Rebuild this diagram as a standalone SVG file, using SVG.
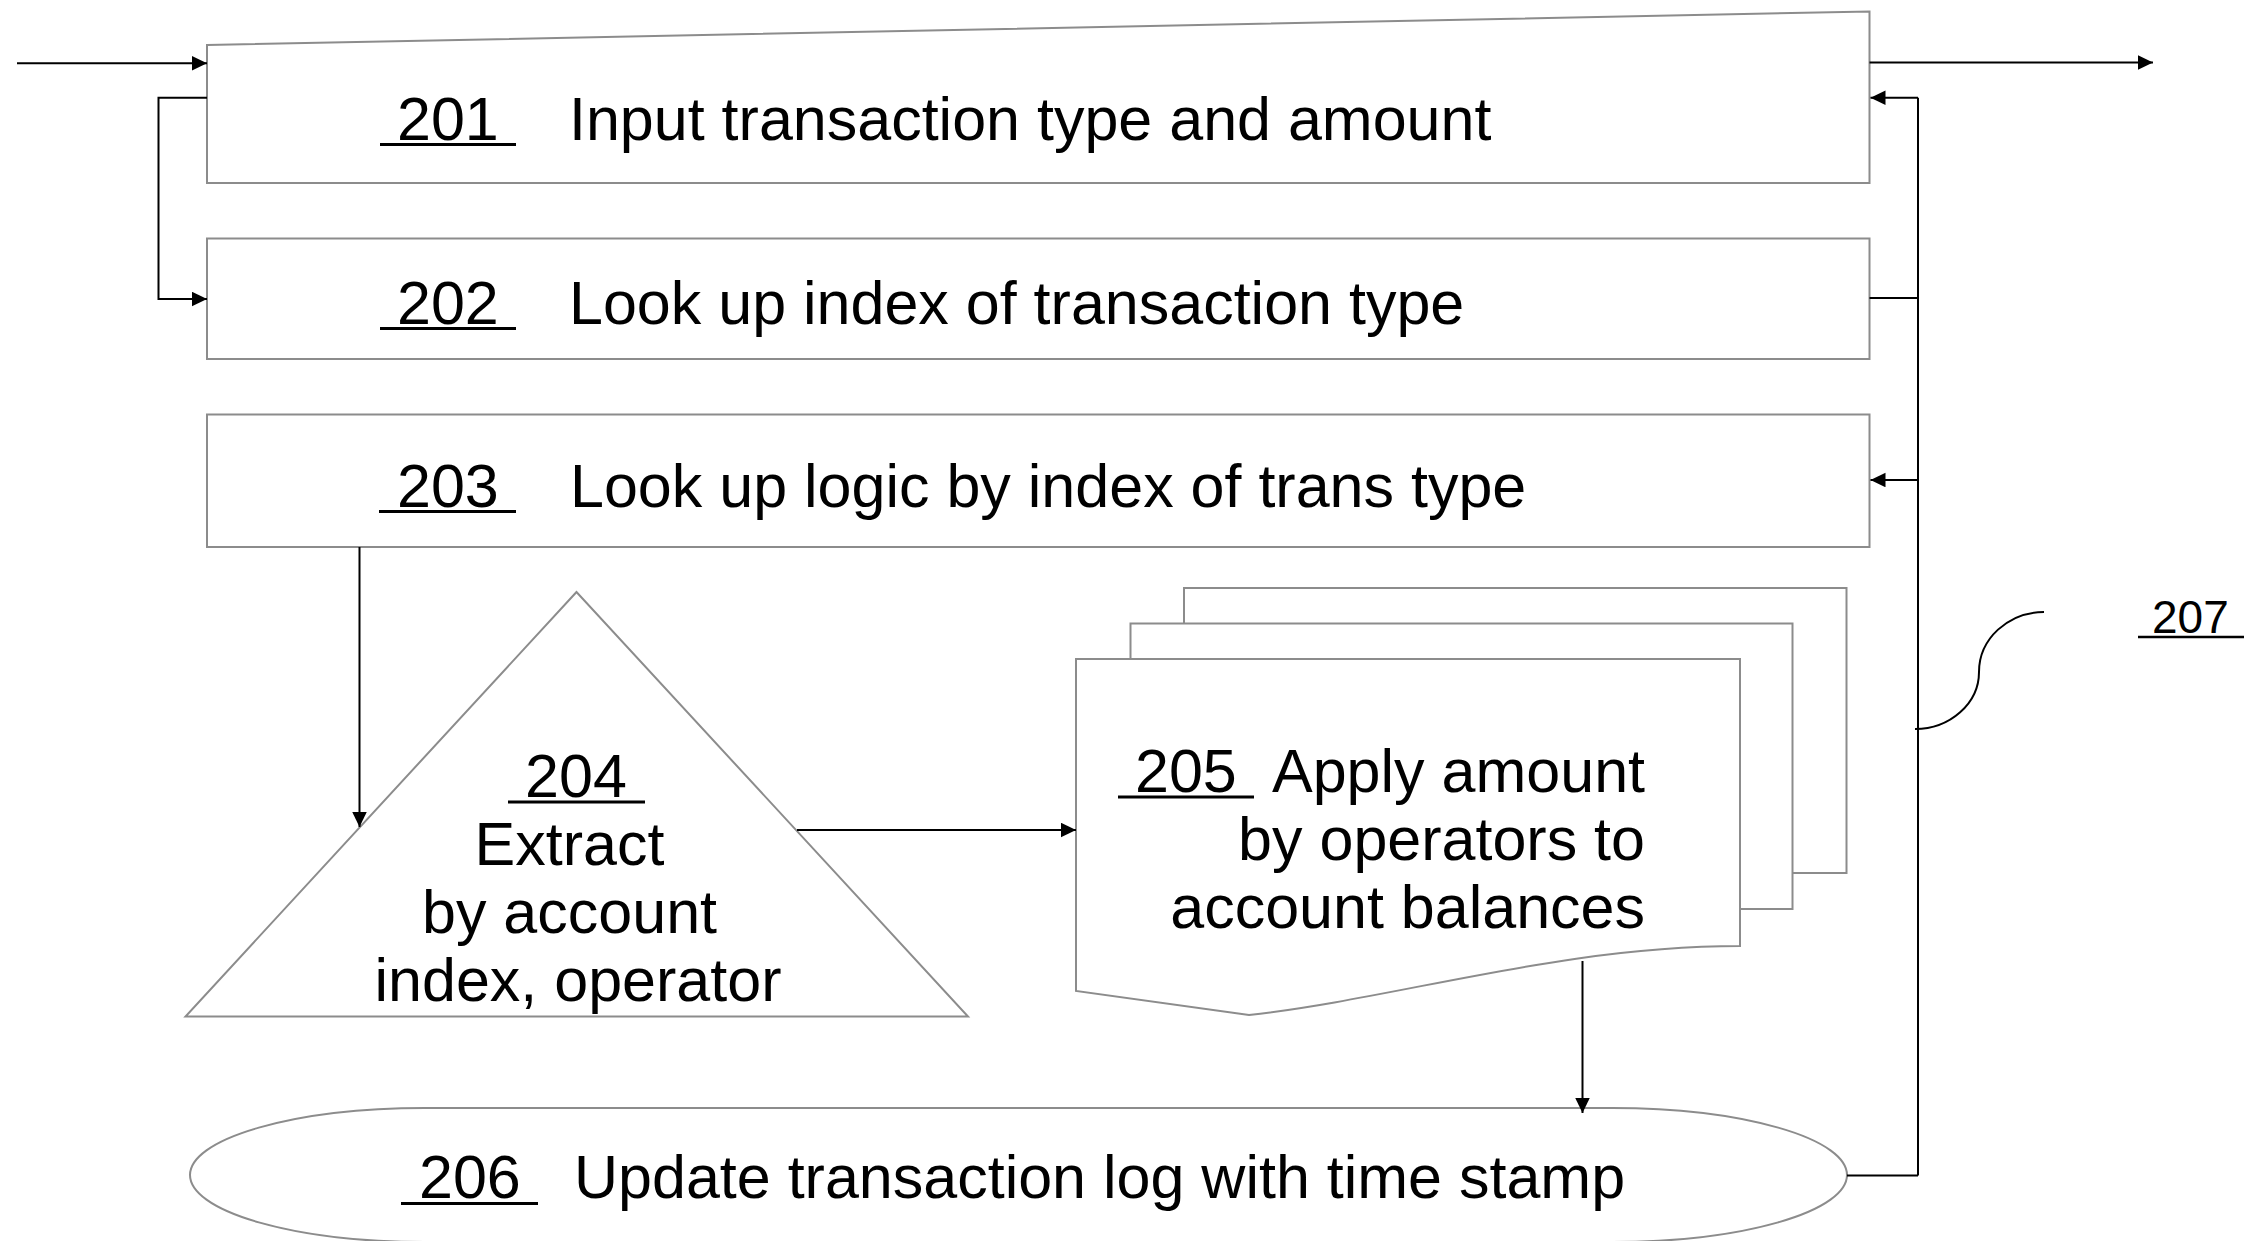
<svg xmlns="http://www.w3.org/2000/svg" width="2256" height="1241" viewBox="0 0 2256 1241">
<style>
.shape{fill:#fff;stroke:#8c8c8c;stroke-width:2}
.conn{fill:none;stroke:#000;stroke-width:2}
.t{font-family:"Liberation Sans",Arial,sans-serif;font-size:61px;fill:#000}
.ul{stroke:#000;stroke-width:3}
.e{text-anchor:end}
.m{text-anchor:middle}
</style>
<defs>
<marker id="arr" markerUnits="userSpaceOnUse" markerWidth="16" markerHeight="16" refX="15" refY="7.25" orient="auto">
<path d="M0,0 L15,7.25 L0,14.5 Z" fill="#000"/>
</marker>
</defs>
<rect width="2256" height="1241" fill="#fff"/>

<g id="node-205-stack">
<rect class="shape" x="1184" y="588" width="662.5" height="285"/>
<rect class="shape" x="1130.5" y="623.5" width="662" height="285.5"/>
</g>

<g id="node-201">
<polygon class="shape" points="207,45 1869.5,11.5 1869.5,183 207,183"/>
<text class="t" x="397" y="139.5">201</text>
<line class="ul" x1="380" y1="144.5" x2="516" y2="144.5"/>
<text class="t" x="569" y="139.5">Input transaction type and amount</text>
</g>

<g id="node-202">
<rect class="shape" x="207" y="238.5" width="1662.5" height="120.5"/>
<text class="t" x="397" y="323.5">202</text>
<line class="ul" x1="380" y1="328.5" x2="516" y2="328.5"/>
<text class="t" x="569" y="323.5">Look up index of transaction type</text>
</g>

<g id="node-203">
<rect class="shape" x="207" y="414.5" width="1662.5" height="132.5"/>
<text class="t" x="397" y="506.5">203</text>
<line class="ul" x1="379" y1="511.5" x2="516" y2="511.5"/>
<text class="t" x="570" y="506.5">Look up logic by index of trans type</text>
</g>

<g id="node-204">
<polygon class="shape" points="576.5,592 185.5,1016.5 968,1016.5"/>
<text class="t m" x="576" y="797">204</text>
<line class="ul" x1="508" y1="802" x2="645" y2="802"/>
<text class="t m" x="569.5" y="865">Extract</text>
<text class="t m" x="569.5" y="933">by account</text>
<text class="t m" x="578" y="1001">index, operator</text>
</g>

<g id="node-205">
<path class="shape" d="M1076,659 H1740 V946 C1560,946 1400,998 1249,1015 L1076,991 Z"/>
<text class="t" x="1135" y="792">205</text>
<line class="ul" x1="1118" y1="797" x2="1254" y2="797"/>
<text class="t e" x="1645" y="792">Apply amount</text>
<text class="t e" x="1645" y="860">by operators to</text>
<text class="t e" x="1645" y="928">account balances</text>
</g>

<g id="node-206">
<rect class="shape" x="190" y="1108" width="1657" height="134" rx="235" ry="67"/>
<text class="t" x="419" y="1198">206</text>
<line class="ul" x1="401" y1="1203.5" x2="538" y2="1203.5"/>
<text class="t" x="574" y="1198">Update transaction log with time stamp</text>
</g>

<g id="label-207">
<text x="2152" y="632.5" style="font-family:'Liberation Sans',Arial,sans-serif;font-size:46px;fill:#000">207</text>
<line x1="2138" y1="637" x2="2244" y2="637" stroke="#000" stroke-width="2.5"/>
<path class="conn" d="M1915,729 C1950,729 1979,703.5 1979,672 C1979,639 2008,612 2044,612"/>
</g>

<g id="connectors">
<line class="conn" x1="17" y1="63.3" x2="207" y2="63.3" marker-end="url(#arr)"/>
<line class="conn" x1="1869.5" y1="62.5" x2="2153" y2="62.5" marker-end="url(#arr)"/>
<polyline class="conn" points="207,97.7 158.5,97.7 158.5,299 207,299" marker-end="url(#arr)"/>
<line class="conn" x1="1918" y1="97.7" x2="1918" y2="1175.5"/>
<line class="conn" x1="1918" y1="97.7" x2="1870.5" y2="97.7" marker-end="url(#arr)"/>
<line class="conn" x1="1869.5" y1="298" x2="1918" y2="298"/>
<line class="conn" x1="1918" y1="480" x2="1870.5" y2="480" marker-end="url(#arr)"/>
<line class="conn" x1="1847" y1="1175.5" x2="1918" y2="1175.5"/>
<line class="conn" x1="359.5" y1="547" x2="359.5" y2="827" marker-end="url(#arr)"/>
<line class="conn" x1="797" y1="830" x2="1076" y2="830" marker-end="url(#arr)"/>
<line class="conn" x1="1582.5" y1="961" x2="1582.5" y2="1113" marker-end="url(#arr)"/>
</g>
</svg>
